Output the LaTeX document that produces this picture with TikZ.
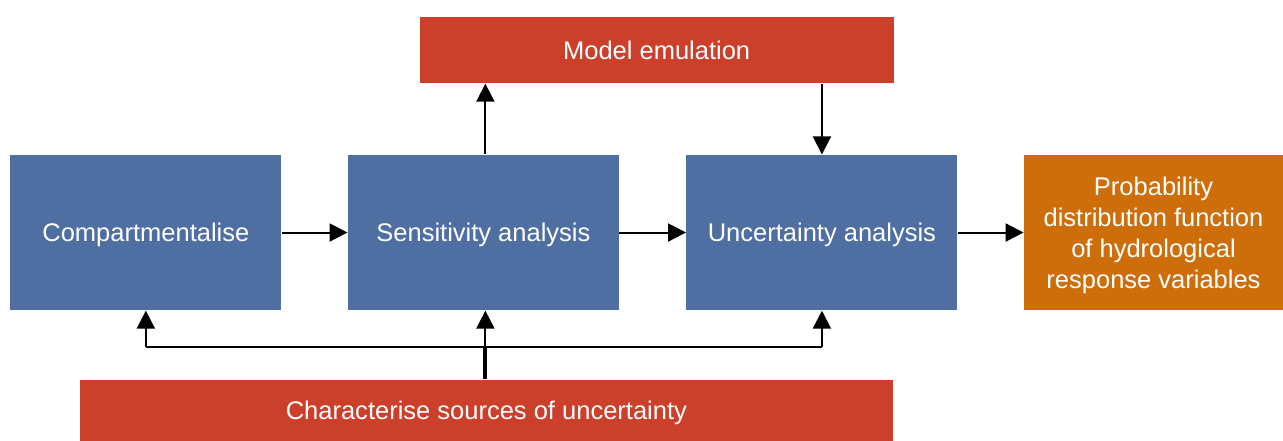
\documentclass[tikz,border=0pt]{standalone}
\usepackage{fontspec}
\setmainfont{Liberation Sans}
\usepackage{xcolor}
\usepackage{tikz}
\usetikzlibrary{arrows.meta, positioning, calc}

\definecolor{stepblue}{HTML}{4F6FA3}
\definecolor{stepred}{HTML}{CC3F2B}
\definecolor{steporange}{HTML}{CD6E0B}

\begin{document}
\begin{tikzpicture}[
    node distance=33pt,
    font=\fontsize{12.8}{15.6}\selectfont,
    block/.style={
        rectangle,
        fill=stepblue,
        text=white,
        align=center,
        inner sep=0pt,
        text depth=0pt,
        minimum width=136pt,
        minimum height=78pt
    },
    banner/.style={
        rectangle,
        fill=stepred,
        text=white,
        align=center,
        inner sep=0pt,
        text depth=0pt
    },
    arrow/.style={
        -{Triangle[length=9pt,width=9pt]},
        line width=1pt,
        black
    }
]

% Main chain
\node[block] (comp) {Compartmentalise};
\node[block, right=33pt of comp] (sens) {Sensitivity analysis};
\node[block, right=33.5pt of sens] (unc) {Uncertainty analysis};
\node[block, fill=steporange, minimum width=130pt, right=33pt of unc] (prob) {Probability\\distribution function\\of hydrological\\response variables};

% Emulation and sources
\node[banner, minimum width=238pt, minimum height=33.5pt, above=35.5pt of $(sens.north)!0.5!(unc.north)$, xshift=2pt] (emul) {Model emulation};
\node[banner, minimum width=408pt, minimum height=30.5pt, below=34.5pt of sens, xshift=1.5pt] (chars) {Characterise sources of uncertainty};

% Frame
\useasboundingbox ($(comp.north west)+(-5pt,77.5pt)$) rectangle ($(comp.north west)+(636.5pt,-143pt)$);

% Arrows
\draw[arrow] (comp) -- (sens);
\draw[arrow] (sens) -- (unc);
\draw[arrow] (unc) -- (prob);
\draw[arrow] ([xshift=1pt]sens.north) -- ([xshift=1pt]sens.north |- emul.south);
\draw[arrow] (emul.south -| unc.north) -- (unc.north);

% Bus from sources
\coordinate (bus) at ($([xshift=1pt]sens.south)+(0,-18.5pt)$);
\draw[line width=2pt] (chars.north -| bus) -- (bus);
\draw[line width=1pt] (bus -| comp.south) -- (bus -| unc.south);
\draw[arrow] (bus -| comp.south) -- (comp.south);
\draw[arrow] (bus) -- ([xshift=1pt]sens.south);
\draw[arrow] (bus -| unc.south) -- (unc.south);

\end{tikzpicture}
\end{document}
